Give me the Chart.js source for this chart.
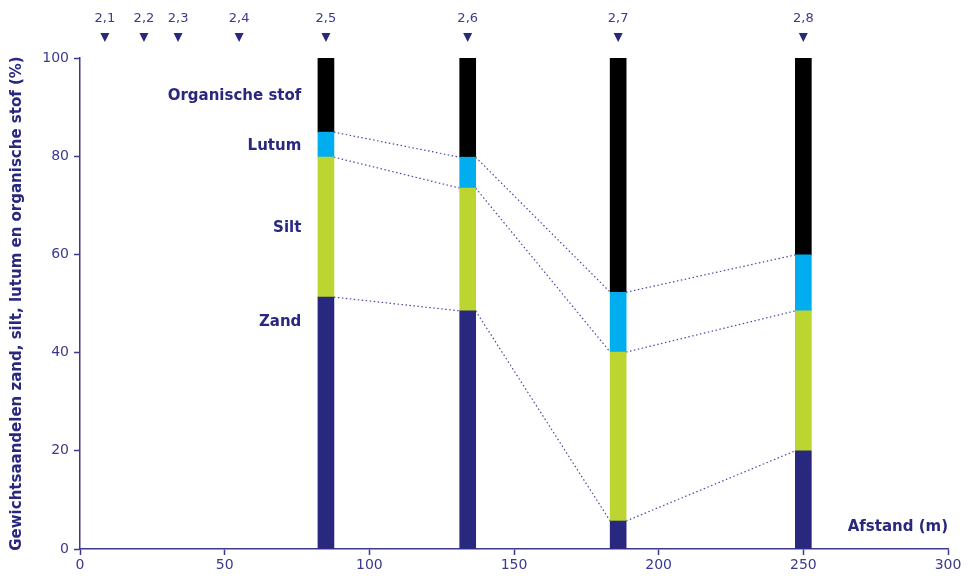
<!DOCTYPE html>
<html>
<head>
<meta charset="utf-8">
<script src="https://cdn.jsdelivr.net/npm/chart.js@4"></script>
<style>
    body { margin: 0; background: #fff; }
    #wrap { width: 968px; height: 576px; }
</style>
</head>
<body>
<div id="wrap"><canvas id="soilChart"></canvas></div>
<script>
// afstand van de boorpunten (m)
const positions = [85, 134, 186, 250];
// bovengrens van elke fractie (%), cumulatief
const zandTop = [51.3, 48.5, 5.7, 20.0];
const siltTop = [79.8, 73.5, 40.1, 48.5];
const lutumTop = [84.9, 79.8, 52.3, 59.9];
const totalTop = [100, 100, 100, 100];

// meetpunten bovenaan
const markerLabels = ["2,1", "2,2", "2,3", "2,4", "2,5", "2,6", "2,7", "2,8"];
const markerPositions = [8.6, 22.1, 33.9, 55, 85, 134, 186, 250];

const fractionNames = ["Organische stof", "Lutum", "Silt", "Zand"];
const fractionLabelY = [92.3, 82.0, 65.4, 46.2];

const navy = "#29287f";
const axisBlue = "#3b3a8e";
const halfBar = 2.75;

function barData(bottom, top) {
    return positions.map((x, i) => ({ x: x, y: [bottom[i], top[i]] }));
}

// stippellijn van rechterkant van een kolom naar linkerkant van de volgende
function connector(levels) {
    const pts = [];
    for (let i = 0; i < positions.length - 1; i++) {
        pts.push({ x: positions[i] + halfBar, y: levels[i] });
        pts.push({ x: positions[i + 1] - halfBar, y: levels[i + 1] });
        pts.push({ x: positions[i + 1], y: null });
    }
    return pts;
}

const zeros = positions.map(() => 0);

const textPlugin = {
    id: "textPlugin",
    afterDraw(chart) {
        const ctx = chart.ctx;
        const xs = chart.scales.x;
        const ys = chart.scales.y;
        ctx.save();
        ctx.fillStyle = navy;
        ctx.font = "bold 15px 'DejaVu Sans'";
        ctx.textAlign = "right";
        ctx.textBaseline = "middle";
        fractionNames.forEach((name, i) => {
            ctx.fillText(name, xs.getPixelForValue(76.5), ys.getPixelForValue(fractionLabelY[i]));
        });
        ctx.fillText("Afstand (m)", xs.getPixelForValue(300), ys.getPixelForValue(4.5));

        // driehoekjes en labels van de meetpunten
        ctx.font = "13px 'DejaVu Sans'";
        ctx.textAlign = "center";
        markerLabels.forEach((lab, i) => {
            const px = xs.getPixelForValue(markerPositions[i]);
            ctx.fillStyle = axisBlue;
            ctx.fillText(lab, px, 19);
            ctx.fillStyle = navy;
            ctx.beginPath();
            ctx.moveTo(px - 4.5, 33);
            ctx.lineTo(px + 4.5, 33);
            ctx.lineTo(px, 42);
            ctx.closePath();
            ctx.fill();
        });
        ctx.restore();
    }
};

const ctx = document.getElementById("soilChart").getContext("2d");
new Chart(ctx, {
    type: "bar",
    data: {
        datasets: [
            { label: "Zand", data: barData(zeros, zandTop), backgroundColor: navy },
            { label: "Silt", data: barData(zandTop, siltTop), backgroundColor: "#bcd531" },
            { label: "Lutum", data: barData(siltTop, lutumTop), backgroundColor: "#00adef" },
            { label: "Organische stof", data: barData(lutumTop, totalTop), backgroundColor: "#000000" },
            { type: "line", data: connector(zandTop), borderColor: "#4a48a0", borderWidth: 1.2, borderDash: [1.5, 2.5], pointRadius: 0, spanGaps: false },
            { type: "line", data: connector(siltTop), borderColor: "#4a48a0", borderWidth: 1.2, borderDash: [1.5, 2.5], pointRadius: 0, spanGaps: false },
            { type: "line", data: connector(lutumTop), borderColor: "#4a48a0", borderWidth: 1.2, borderDash: [1.5, 2.5], pointRadius: 0, spanGaps: false }
        ]
    },
    options: {
        responsive: true,
        maintainAspectRatio: false,
        animation: false,
        grouped: false,
        barThickness: 16,
        layout: { padding: { top: 58, right: 20, left: 0, bottom: 0 } },
        plugins: {
            legend: { display: false },
            tooltip: { enabled: false }
        },
        scales: {
            x: {
                type: "linear",
                min: 0,
                max: 300,
                offset: false,
                border: { color: axisBlue, width: 1.5 },
                grid: { display: true, offset: false, drawOnChartArea: false, drawTicks: true, tickLength: 6, tickColor: axisBlue, tickWidth: 1.5 },
                ticks: { stepSize: 50, color: axisBlue, font: { family: "DejaVu Sans", size: 14 }, padding: 2 },
                afterFit(scale) { scale.height = 27; }
            },
            y: {
                min: 0,
                max: 100,
                border: { color: axisBlue, width: 1.5 },
                grid: { display: true, drawOnChartArea: false, drawTicks: true, tickLength: 6, tickColor: axisBlue, tickWidth: 1.5 },
                ticks: { stepSize: 20, color: axisBlue, font: { family: "DejaVu Sans", size: 14 }, padding: 5 },
                title: {
                    display: true,
                    text: "Gewichtsaandelen zand, silt, lutum en organische stof (%)",
                    color: navy,
                    font: { family: "DejaVu Sans", size: 15, weight: "bold" },
                    padding: { top: 8, bottom: 4 }
                },
                afterFit(scale) { scale.width = 80; }
            }
        }
    },
    plugins: [textPlugin]
});
</script>
</body>
</html>
